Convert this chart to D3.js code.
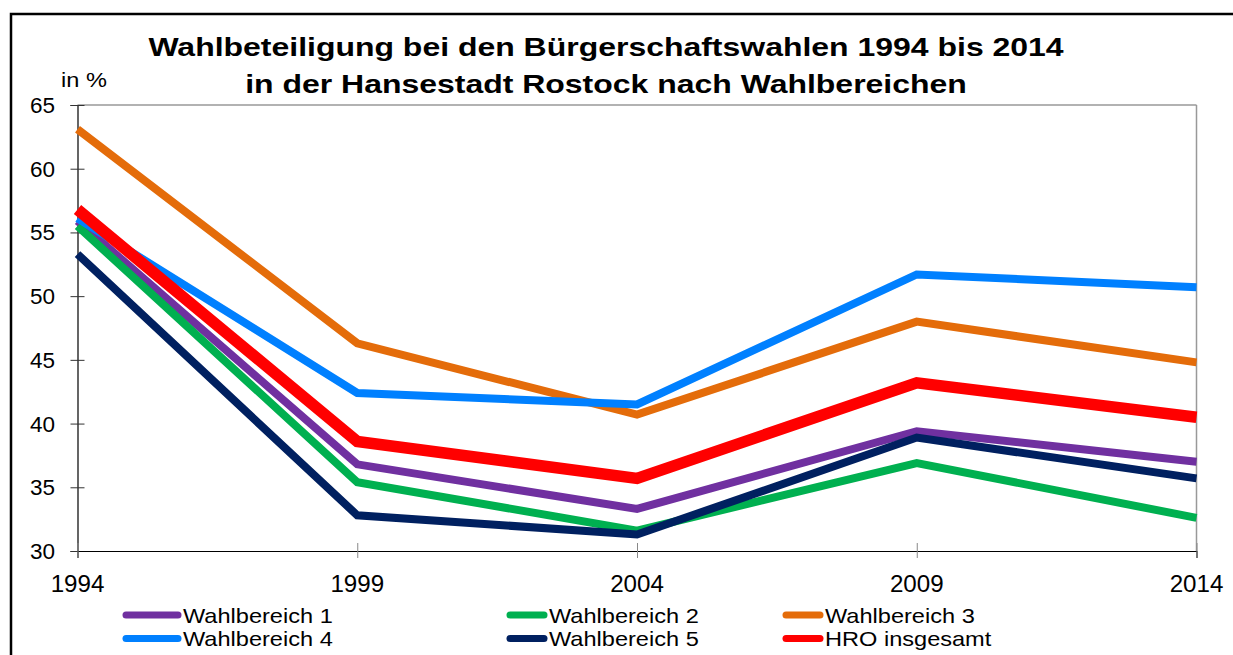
<!DOCTYPE html>
<html><head><meta charset="utf-8">
<script src="https://cdn.jsdelivr.net/npm/d3@7"></script>
<style>
body{margin:0;background:#fff;}
text{font-family:"Liberation Sans",Arial,sans-serif;fill:#000;}
</style></head>
<body><svg id="c" width="1233" height="655"></svg>
<script>
const years = [1994, 1999, 2004, 2009, 2014];
const seriesNames = ["Wahlbereich 1","Wahlbereich 2","Wahlbereich 3","Wahlbereich 4","Wahlbereich 5","HRO insgesamt"];
const wb1 = [55.9, 36.8, 33.3, 39.4, 37.0];
const wb2 = [55.5, 35.4, 31.6, 36.9, 32.6];
const wb3 = [63.1, 46.3, 40.7, 48.0, 44.8];
const wb4 = [56.1, 42.4, 41.5, 51.7, 50.7];
const wb5 = [53.3, 32.8, 31.3, 38.9, 35.7];
const hro = [56.8, 38.6, 35.7, 43.2, 40.5];
const yTicks = [30, 35, 40, 45, 50, 55, 60, 65];
const colors = ["#7030A0","#00B050","#E46C0A","#0080FF","#002060","#FF0000"];
const widths = [8, 8, 8, 8, 8, 11.5];
const values = [wb1, wb2, wb3, wb4, wb5, hro];
const titleLines = ["Wahlbeteiligung bei den Bürgerschaftswahlen 1994 bis 2014","in der Hansestadt Rostock nach Wahlbereichen"];

const svg = d3.select("#c");
const SX = 1.08; // horizontal text stretch
function stext(g, x, y, str, anchor, size, weight, sx){
  return g.append("text")
    .attr("transform", `translate(${x},${y}) scale(${sx||SX},1)`)
    .attr("text-anchor", anchor).style("font-size", size+"px")
    .style("font-weight", weight||"normal").text(str);
}

// outer border
svg.append("rect").attr("x",11).attr("y",14).attr("width",1240).attr("height",700)
  .attr("fill","none").attr("stroke","#000").attr("stroke-width",2.5);

const x = d3.scalePoint().domain(years).range([77.5, 1196.5]);
const y = d3.scaleLinear().domain([30, 65]).range([551, 105]);

// plot frame (grey top/right)
svg.append("line").attr("x1",77.5).attr("x2",1196.5).attr("y1",105).attr("y2",105).attr("stroke","#999").attr("stroke-width",1.5);
svg.append("line").attr("x1",1196.5).attr("x2",1196.5).attr("y1",105).attr("y2",551).attr("stroke","#999").attr("stroke-width",1.5);

// y axis
const yAxis = svg.append("g").attr("transform","translate(77.5,0)")
  .call(d3.axisLeft(y).tickValues(yTicks).tickSize(7).tickFormat(""));
yAxis.select(".domain").attr("stroke","#000").attr("stroke-width",1.2);
yAxis.selectAll(".tick line").attr("x2",7).attr("x1",-7).attr("stroke","#333");
yTicks.forEach(t => stext(svg, 55, y(t)+8, String(t), "end", 22.5, "normal", 1.0));

// x axis
const xAxis = svg.append("g").attr("transform","translate(0,551)")
  .call(d3.axisBottom(x).tickSize(7).tickFormat(""));
xAxis.select(".domain").attr("stroke","#000").attr("stroke-width",1.2);
xAxis.selectAll(".tick line").attr("y1",-8).attr("y2",7).attr("stroke","#888");
years.forEach(yr => stext(svg, x(yr), 592, String(yr), "middle", 23, "normal", 1.05));

// lines
const line = d3.line().x((d,i)=>x(years[i])).y(d=>y(d));
values.forEach((v,i)=>{
  svg.append("path").datum(v).attr("d", line).attr("fill","none")
    .attr("stroke", colors[i]).attr("stroke-width", widths[i]).attr("stroke-linejoin","miter");
});

// title
stext(svg, 606, 56, titleLines[0], "middle", 26, "bold", 1.23);
stext(svg, 606, 93, titleLines[1], "middle", 26, "bold", 1.23);
stext(svg, 61, 87, "in %", "start", 20.5, "normal", 1.15);

// legend
const legCols = [[123,181],[507,547],[783,823]];
const legRows = [615, 638.5];
seriesNames.forEach((n,i)=>{
  const c = legCols[i%3], r = legRows[Math.floor(i/3)];
  svg.append("line").attr("x1",c[0]+3).attr("x2",c[1]-3).attr("y1",r).attr("y2",r)
    .attr("stroke",colors[i]).attr("stroke-width",7).attr("stroke-linecap","round");
  stext(svg, c[1]+2, r+7.5, n, "start", 20.5, "normal", 1.15);
});
</script></body></html>
